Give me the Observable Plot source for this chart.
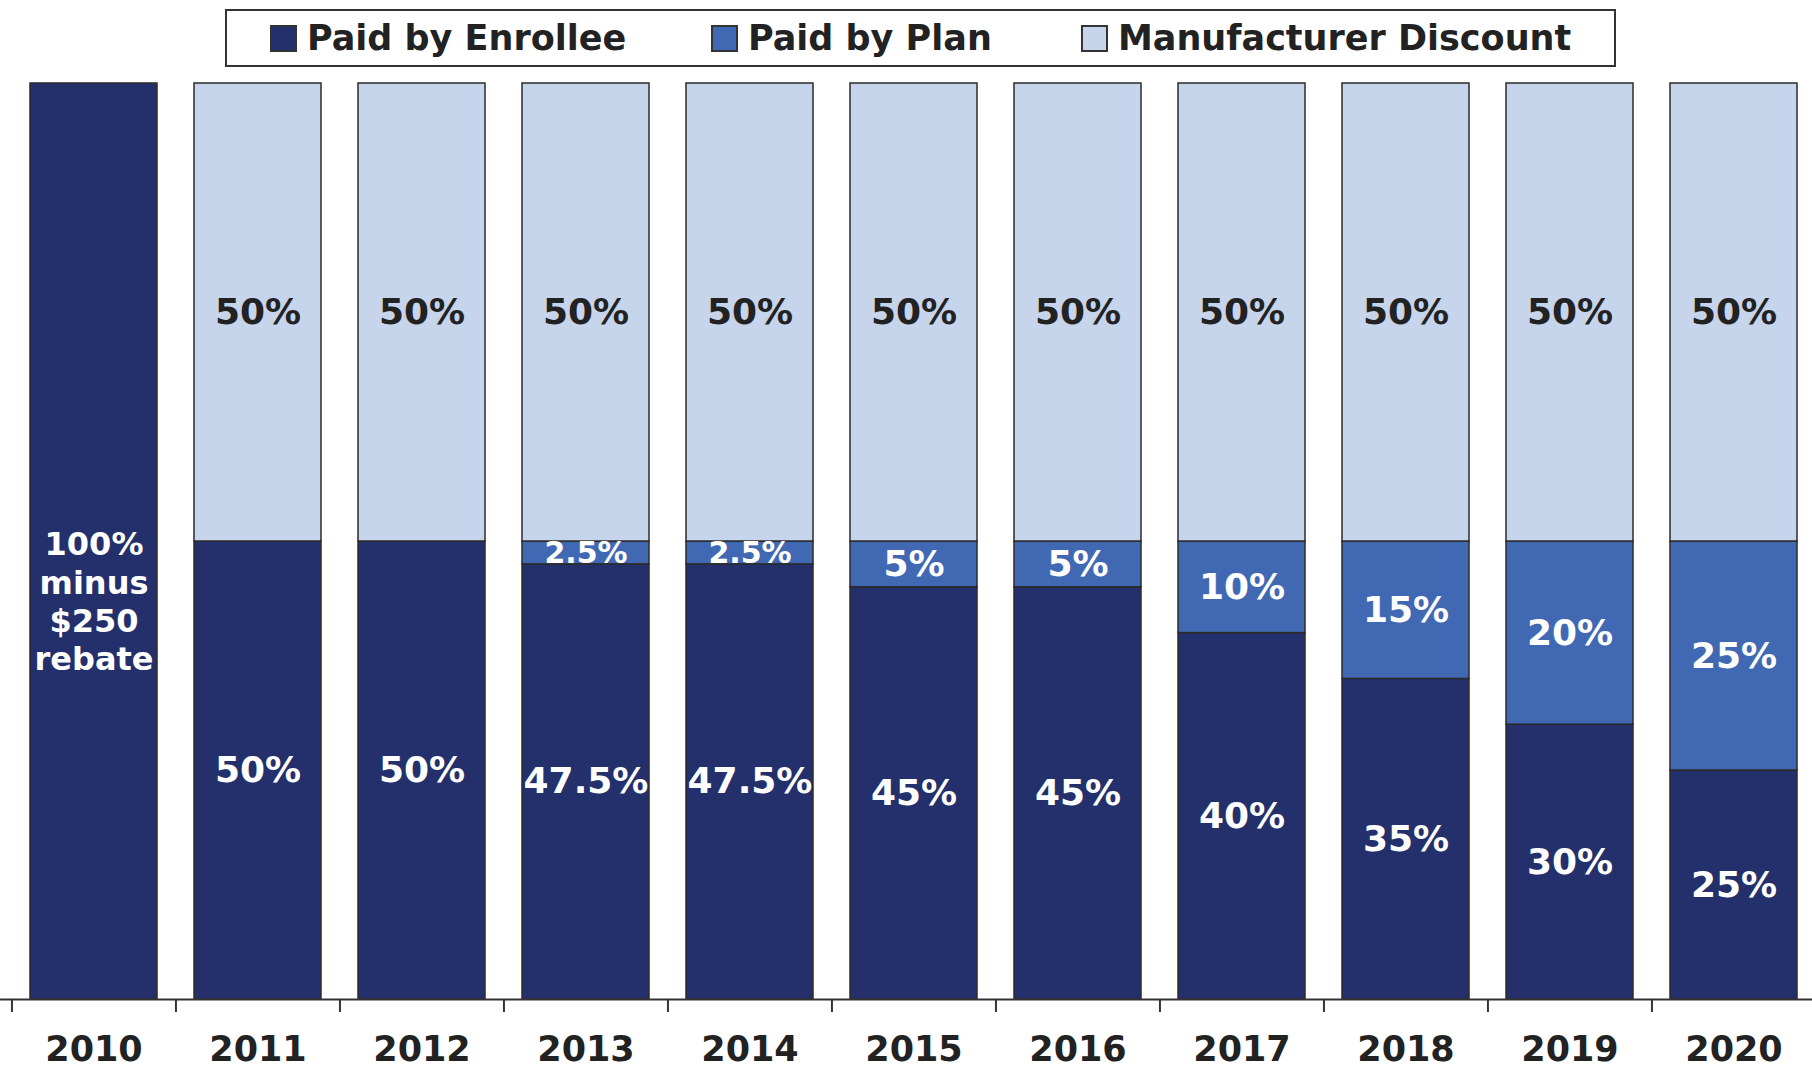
<!DOCTYPE html>
<html><head><meta charset="utf-8">
<script src="https://cdn.jsdelivr.net/npm/d3@7"></script>
<script src="https://cdn.jsdelivr.net/npm/@observablehq/plot@0.6"></script>
<style>
body{margin:0;background:#fff;font-family:"DejaVu Sans",sans-serif;}
#wrap{position:relative;width:1812px;height:1071px;overflow:hidden;}
#legend{position:absolute;left:225px;top:9px;width:1387px;height:54px;border:2px solid #333;background:#fff;}
.item{position:absolute;top:0;height:54px;display:flex;align-items:center;font-weight:bold;font-size:35px;color:#222;white-space:nowrap;}
.sw{width:23px;height:23px;border:2px solid #333;margin-right:10px;}
</style></head><body><div id="wrap"><div id="chart"></div><div id="legend"></div></div>
<script>
const years = ["2010","2011","2012","2013","2014","2015","2016","2017","2018","2019","2020"];
const enrollee = [100, 50, 50, 47.5, 47.5, 45, 45, 40, 35, 30, 25];
const plan     = [0, 0, 0, 2.5, 2.5, 5, 5, 10, 15, 20, 25];
const discount = [0, 50, 50, 50, 50, 50, 50, 50, 50, 50, 50];
const seriesNames = ["Paid by Enrollee", "Paid by Plan", "Manufacturer Discount"];
const seriesColors = ["#23306b", "#4169b3", "#c6d4ec"];
const note2010 = "100%\nminus\n$250\nrebate";

const seriesValues = [enrollee, plan, discount];
const rows = [];
years.forEach((y, i) => seriesNames.forEach((s, j) => rows.push({year: y, series: s, value: seriesValues[j][i]})));

const W = 1812, H = 1071, mT = 83, mB = 72;
const xRange = [11, 1816];
const step = (xRange[1] - xRange[0]) / years.length;

const label = (d, show) => (show && d.value > 0 && d.year !== years[0]) ? d.value + "%" : "";

const chart = Plot.plot({
  width: W, height: H,
  marginLeft: 0, marginRight: 0, marginTop: mT, marginBottom: mB,
  x: {domain: years, range: xRange, paddingInner: 0.225, paddingOuter: 0.1125, axis: null, label: null},
  y: {domain: [0, 100], axis: null},
  color: {domain: seriesNames, range: seriesColors},
  style: {fontFamily: "DejaVu Sans, sans-serif", background: "white", overflow: "hidden"},
  marks: [
    Plot.barY(rows, {x: "year", y: "value", fill: "series", order: seriesNames, stroke: "#2b2b2b", strokeWidth: 1.5}),
    Plot.text(rows, Plot.stackY({x: "year", y: "value", z: "series", order: seriesNames,
      text: d => label(d, d.series !== seriesNames[2]),
      fontSize: d => d.value < 5 ? 30 : 36, fontWeight: "bold", fill: "white"})),
    Plot.text(rows, Plot.stackY({x: "year", y: "value", z: "series", order: seriesNames,
      text: d => label(d, d.series === seriesNames[2]),
      fontSize: 36, fontWeight: "bold", fill: "#222"})),
    Plot.text([{year: years[0], label: note2010}], {x: "year", y: () => enrollee[0] / 2, text: "label",
      dy: 59, lineHeight: 1.2, fill: "white", fontSize: 32, fontWeight: "bold"}),
    Plot.ruleY([0], {stroke: "#333", strokeWidth: 2}),
    Plot.axisX({tickSize: 13, tickFormat: () => "", label: null, dx: -step / 2, stroke: "#333", strokeWidth: 2}),
    Plot.axisX({tickSize: 0, tickPadding: 37, label: null, fontSize: 35, fontWeight: "bold", fill: "#222"})
  ]
});
document.getElementById("chart").appendChild(chart);

const legend = document.getElementById("legend");
const legendLeft = [43, 484, 854];
seriesNames.forEach((s, j) => {
  const it = document.createElement("div");
  it.className = "item";
  it.style.left = legendLeft[j] + "px";
  const sw = document.createElement("span");
  sw.className = "sw";
  sw.style.background = seriesColors[j];
  it.appendChild(sw);
  it.appendChild(document.createTextNode(s));
  legend.appendChild(it);
});
</script></body></html>
